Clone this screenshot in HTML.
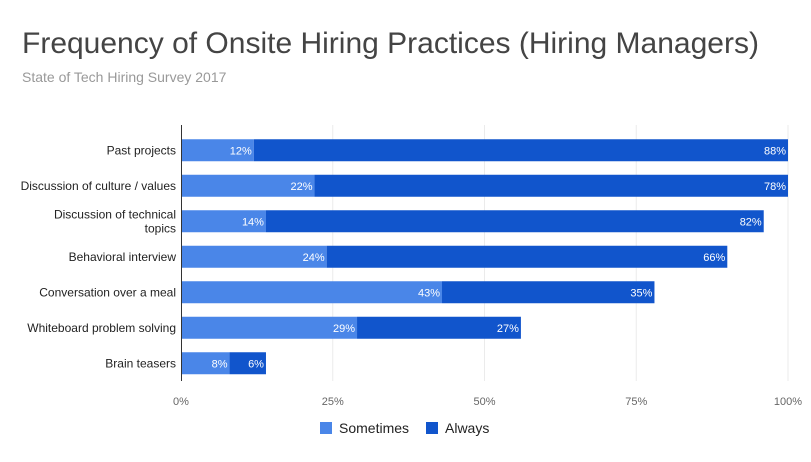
<!DOCTYPE html>
<html><head><meta charset="utf-8"><style>
body{margin:0;background:#fff;font-family:"Liberation Sans",Roboto,sans-serif;}
svg text{font-family:"Liberation Sans",sans-serif;}
</style></head><body>
<svg id="chart" width="811" height="457" viewBox="0 0 811 457">
<rect width="811" height="457" fill="#fff"/>
<text x="22" y="53" font-size="30" fill="#444">Frequency of Onsite Hiring Practices (Hiring Managers)</text>
<text x="22" y="82" font-size="14" fill="#999">State of Tech Hiring Survey 2017</text>
<g id="grid"></g><g id="bars"></g><g id="labels"></g>
<line x1="181.5" y1="125" x2="181.5" y2="381" stroke="#333" stroke-width="1"/>
<rect x="320" y="422" width="12" height="12" fill="#4a86e8"/>
<text x="339" y="433" font-size="14" fill="#222">Sometimes</text>
<rect x="426" y="422" width="12" height="12" fill="#1155cc"/>
<text x="445" y="433" font-size="14" fill="#222">Always</text>
</svg>
<script>
const categories=[["Past projects"],["Discussion of culture / values"],["Discussion of technical","topics"],["Behavioral interview"],["Conversation over a meal"],["Whiteboard problem solving"],["Brain teasers"]];
const sometimes=[12,22,14,24,43,29,8];
const always=[88,78,82,66,35,27,6];
const ticks=[0,25,50,75,100];
const NS="http://www.w3.org/2000/svg";
const x0=181,x1=788,yTop=132.5,step=35.5,bh=22;
const xs=v=>x0+(x1-x0)*v/100;
const yc=i=>yTop+step*(i+0.5);
function mk(tag,attrs,parent){const e=document.createElementNS(NS,tag);for(const k in attrs)e.setAttribute(k,attrs[k]);document.getElementById(parent).appendChild(e);return e;}
ticks.forEach(t=>{
 if(t>0){const l=mk('line',{x1:xs(t),x2:xs(t),y1:125,y2:381,stroke:'#ebebeb'},'grid');
 
 }
 const tx=mk('text',{x:xs(t),y:405,'font-size':11,fill:'#666','text-anchor':'middle'},'grid');
 tx.textContent=t+'%';
 
 
});
categories.forEach((c,i)=>{
 const y=yc(i);
 const a=xs(0),b=xs(sometimes[i]),e=xs(sometimes[i]+always[i]);
 const r1=mk('rect',{x:a,y:y-bh/2,width:b-a,height:bh,fill:'#4a86e8'},'bars');
 
 
 const r2=mk('rect',{x:b,y:y-bh/2,width:e-b,height:bh,fill:'#1155cc'},'bars');
 
 
 const v1=mk('text',{x:b-2,y:y+4,'font-size':11,fill:'#fff','text-anchor':'end'},'labels');
 v1.textContent=sometimes[i]+'%';
 
 
 const v2=mk('text',{x:e-2,y:y+4,'font-size':11,fill:'#fff','text-anchor':'end'},'labels');
 v2.textContent=always[i]+'%';
 
 
 const off=c.length>1?-7:0;
 c.forEach((line,j)=>{
  const t=mk('text',{x:176,y:y+4+off+j*14,'font-size':12,fill:'#222','text-anchor':'end'},'labels');
  t.textContent=line;
  
  
 });
});
</script>
</body></html>
